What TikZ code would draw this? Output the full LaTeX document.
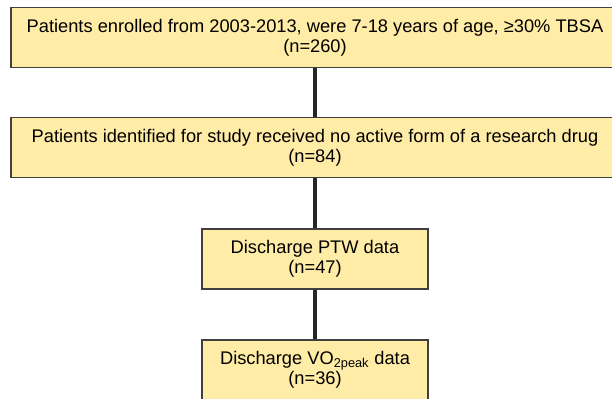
\documentclass[tikz,border=0pt]{standalone}
\usepackage{fontspec}
\setmainfont{Liberation Sans}
\definecolor{boxfill}{RGB}{255,236,166}
\definecolor{boxline}{RGB}{64,64,64}
\definecolor{linkcol}{RGB}{38,38,38}
\begin{document}
\begin{tikzpicture}[x=0.75pt, y=-0.75pt, every node/.style={font=\fontsize{13.7}{15}\selectfont}]
  \tikzstyle{b}=[draw=boxline,fill=boxfill,line width=0.9pt,align=center,minimum height=45pt,inner sep=0pt]
  \tikzstyle{link}=[draw=linkcol,line width=3.4pt]
  \useasboundingbox (0,0) rectangle (612,399);
  \node[b,minimum width=456pt] (enrol) at (315,37.5) {Patients enrolled from 2003-2013, were 7-18 years of age, ≥30\% TBSA\\(n=260)};
  \node[b,minimum width=456pt] (ident) at (315,147.5) {Patients identified for study received no active form of a research drug\\(n=84)};
  \node[b,minimum width=169.5pt] (ptw) at (315,259) {Discharge PTW data\\(n=47)};
  \node[b,minimum width=169.5pt] (vo) at (315,370) {Discharge VO\textsubscript{2peak} data\\(n=36)};
  \draw[link] (enrol) -- (ident); \draw[link] (ident) -- (ptw);
  \draw[link] (ptw) -- (vo);
\end{tikzpicture}
\end{document}
